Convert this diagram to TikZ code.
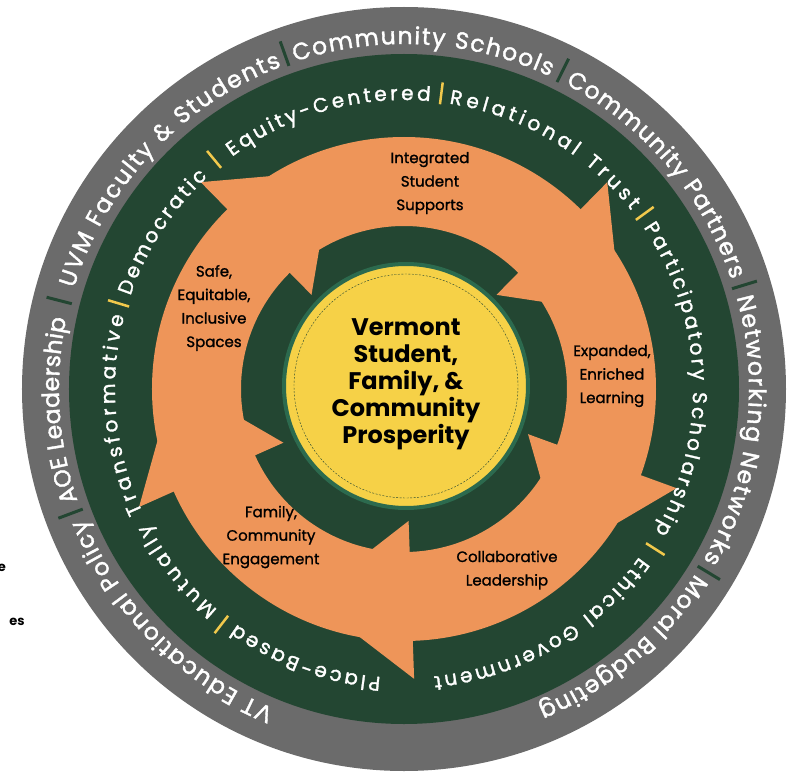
\documentclass[tikz,border=0pt]{standalone}
\usepackage{fontspec}
\setmainfont{Poppins}
\newfontfamily\ringfont[FakeBold=1.6]{Poppins}
\newfontfamily\labelfont[FakeBold=1.2]{Poppins}
\usepackage{tikz}
\usetikzlibrary{decorations.text}
\definecolor{ringgray}{HTML}{6B6B6B}
\definecolor{darkgreen}{HTML}{234632}
\definecolor{arroworange}{HTML}{EE9559}
\definecolor{sunyellow}{HTML}{F6D147}
\definecolor{rimgreen}{HTML}{2C6A4E}
\definecolor{baryellow}{HTML}{F2C94C}
\tikzstyle{looplabel} = [align=center, text=black,
    font=\labelfont\fontsize{15}{23.5}\selectfont]
\tikzstyle{hub} = [align=center, text=black,
    font=\bfseries\fontsize{24}{27}\selectfont]
\tikzstyle{graybar} = [darkgreen, line width=3pt]
\tikzstyle{yellowbar} = [baryellow, line width=2.5pt]
\newcommand{\graytxt}{\ringfont\fontsize{23.5}{23.5}\selectfont\color{white}}
\newcommand{\greentxt}{\ringfont\fontsize{20}{20}\selectfont\color{white}}
% text on an arc: radius, from, to, text
\newcommand{\ringtext}[4]{%
  \path[decorate, decoration={text along path, text align=fit to path,
      text={#4}}] (#2:#1) arc[start angle=#2, end angle=#3, radius=#1];}

\begin{document}
\begin{tikzpicture}[x=1pt, y=1pt]
  \useasboundingbox (-404,-385) rectangle (386,389);
  % Rings
  \fill[ringgray] (0,0) circle[radius=382];
  \fill[darkgreen] (0,0) circle[radius=335];
  % Orange loop of arrows
  \fill[arroworange, even odd rule] (0,0) circle[radius=252]
    (0,0) circle[radius=163];
  \foreach \a in {134.5,45.5,-20,-88,-156} {
    \fill[arroworange] (\a:250) -- (\a:290) -- ({\a-13}:250) -- cycle;
    \fill[arroworange] (\a:166) -- (\a:132) -- ({\a-14}:166) -- cycle;
  }
  % Centre disc
  \fill[sunyellow, draw=rimgreen, line width=4pt] (2,3) circle[radius=122];
  \draw[darkgreen, line width=0.4pt, dash pattern=on 2pt off 1.5pt]
    (2,3) circle[radius=112];

  % Outer ring texts
  \ringtext{345}{108.4}{65.0}{|\graytxt|Community Schools}
  \ringtext{345}{62.1}{18.5}{|\graytxt|Community Partners}
  \ringtext{345}{15.4}{-29.8}{|\graytxt|Networking Networks}
  \ringtext{345}{-32.4}{-67.1}{|\graytxt|Moral Budgeting}
  \ringtext{345}{-112.1}{-157.9}{|\graytxt|VT Educational Policy}
  \ringtext{345}{-161.1}{-191.8}{|\graytxt|AOE Leadership}
  \ringtext{345}{163.0}{110.8}{|\graytxt|UVM Faculty {\&} Students}
  \foreach \a in {109.6,63.5,17.0,-31.1,-159.5,165.6}
    \draw[graybar] (\a:343) -- (\a:369);

  % Green ring texts
  \ringtext{289}{126.5}{84.8}{|\greentxt|Equity-Centered}
  \ringtext{289}{81.0}{38.2}{|\greentxt|Relational Trust}
  \ringtext{289}{34.0}{-29.6}{|\greentxt|Participatory Scholarship}
  \ringtext{289}{-35.5}{-84.1}{|\greentxt|Ethical Government}
  \ringtext{289}{-94.6}{-125.5}{|\greentxt|Place-Based}
  \ringtext{289}{-130.2}{-194.6}{|\greentxt|Mutually Transformative}
  \ringtext{289}{161.2}{132.8}{|\greentxt|Democratic}
  \foreach \a in {129.6,82.8,36.1,-32.5,-127.8,163.3}
    \draw[yellowbar] (\a:287) -- (\a:309);

  % Place nodes
  \node[looplabel] (supports) at (26,206) {Integrated\\Student\\Supports};
  \node[looplabel] (spaces) at (-190,81) {Safe,\\Equitable,\\Inclusive\\Spaces};
  \node[looplabel] (learning) at (208,13) {Expanded,\\Enriched\\Learning};
  \node[looplabel] (engagement) at (-133,-148) {Family,\\Community\\Engagement};
  \node[looplabel] (leadership) at (103,-181) {Collaborative\\Leadership};
  \node[hub] (prosperity) at (2,5)
    {Vermont\\Student,\\Family, \&\\Community\\Prosperity};

  % Cut-off words at the left edge
  \node[font=\bfseries\fontsize{13}{13}\selectfont, inner sep=0] (es) at (-387,-233) {es};
  \node[font=\bfseries\fontsize{13}{13}\selectfont, inner sep=0] (ecut) at (-402,-179) {e};
\end{tikzpicture}
\end{document}
